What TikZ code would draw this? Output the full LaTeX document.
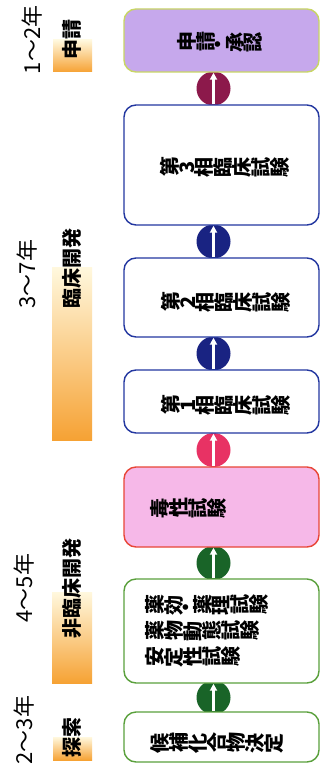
\documentclass[tikz,border=0pt]{standalone}
\usepackage{fontspec}
\usepackage{graphicx}
\usetikzlibrary{arrows.meta,backgrounds}
\newfontfamily\jp{Noto Sans CJK JP}
\makeatletter
\def\rotrow#1{\rotrow@a#1\relax}
\def\rotrow@a#1{\ifx\relax#1\else\rotatebox[origin=c]{90}{#1}\expandafter\rotrow@a\fi}
\makeatother
\definecolor{apfill}{RGB}{198,168,236}
\definecolor{apline}{RGB}{200,214,100}
\definecolor{clline}{RGB}{35,55,160}
\definecolor{txfill}{RGB}{246,184,232}
\definecolor{txline}{RGB}{232,70,55}
\definecolor{gnline}{RGB}{90,160,60}
\definecolor{dmaroon}{RGB}{140,25,75}
\definecolor{dnavy}{RGB}{25,35,130}
\definecolor{dpink}{RGB}{232,50,100}
\definecolor{dgreen}{RGB}{25,100,40}
\definecolor{barA}{RGB}{255,248,222}
\definecolor{barB}{RGB}{252,210,120}
\definecolor{barC}{RGB}{246,162,52}
\begin{document}
\begin{tikzpicture}[x=1pt,y=-1pt,
  box/.style={draw, rounded corners=12pt, line width=1.4pt, minimum width=195pt, inner sep=0pt},
  boxtext/.style={font=\jp\bfseries\fontsize{20}{26}\selectfont, inner sep=0pt, align=left},
  dot/.style={circle, inner sep=0pt, minimum size=34pt},
  flow/.style={draw=white, line width=2.6pt, -{Triangle[width=7pt,length=7pt]}},
  bar/.style={top color=barA, middle color=barB, bottom color=barC, draw=none},
  lab/.style={font=\jp\bfseries\fontsize{20}{20}\selectfont, rotate=90, inner sep=0pt},
  yr/.style={font=\jp\fontsize{22}{22}\selectfont, rotate=90, inner sep=0pt}]
\useasboundingbox (0,0) rectangle (322,781);
% boxes
\node[box, draw=apline, fill=apfill, minimum height=63pt] (b7) at (221.5,40.5) {};
\node[box, draw=clline, fill=white, minimum height=120pt] (b6) at (221.5,165) {};
\node[box, draw=clline, fill=white, minimum height=79pt] (b5) at (221.5,297.5) {};
\node[box, draw=clline, fill=white, minimum height=63pt] (b4) at (221.5,401.5) {};
\node[box, draw=txline, fill=txfill, minimum height=80pt] (b3) at (221.5,507) {};
\node[box, draw=gnline, fill=white, minimum height=104pt] (b2) at (221.5,631) {};
\node[box, draw=gnline, fill=white, minimum height=50pt] (b1) at (221.5,737) {};
% box texts
\node[boxtext] (t7) at (220,43) {\rotrow{申請・承認}};
\node[boxtext] (t6) at (225,167) {\rotrow{第3相臨床試験}};
\node[boxtext] (t5) at (226,302) {\rotrow{第2相臨床試験}};
\node[boxtext] (t4) at (226,405) {\rotrow{第1相臨床試験}};
\node[boxtext, anchor=west] (t3) at (150,508) {\rotrow{毒性試験}};
\node[boxtext, anchor=west] (t2) at (145,631) {\rotrow{薬効・薬理試験}\\\rotrow{薬物動態試験}\\\rotrow{安定性試験}};
\node[boxtext] (t1) at (217,743) {\rotrow{候補化合物決定}};
% connectors
\begin{scope}[on background layer]
\fill[white] (0,0) rectangle (322,781);
\node[dot, fill=dmaroon] (c6) at (213.5,88.5) {};
\node[dot, fill=dnavy] (c5) at (213.5,241.5) {};
\node[dot, fill=dnavy] (c4) at (213.5,353.5) {};
\node[dot, fill=dpink] (c3) at (213.5,450) {};
\node[dot, fill=dgreen] (c2) at (213.5,563) {};
\node[dot, fill=dgreen] (c1) at (213.5,697.5) {};
\draw[flow] (c1 |- b1.north) -- (c1 |- b2.south);
\draw[flow] (c2 |- b2.north) -- (c2 |- b3.south);
\draw[flow] (c3 |- b3.north) -- (c3 |- b4.south);
\draw[flow] (c4 |- b4.north) -- (c4 |- b5.south);
\draw[flow] (c5 |- b5.north) -- (c5 |- b6.south);
\draw[flow] (c6 |- b6.north) -- (c6 |- b7.south);
% bars
\fill[bar] (53,40) rectangle (92,72);
\fill[bar] (52,267) rectangle (92,440);
\fill[bar] (52,592) rectangle (92,683);
\fill[bar] (53,737) rectangle (92,760);
\end{scope}
% stage labels
\node[lab] (l4) at (72,40) {申請};
\node[lab] (l3) at (72,268) {臨床開発};
\node[lab] (l2) at (72,588) {非臨床開発};
\node[lab] (l1) at (72,737) {探索};
% years
\node[yr] (y4) at (32,40) {1〜2年};
\node[yr] (y3) at (27,274) {3〜7年};
\node[yr] (y2) at (24,588) {4〜5年};
\node[yr] (y1) at (24,730) {2〜3年};
\end{tikzpicture}
\end{document}
